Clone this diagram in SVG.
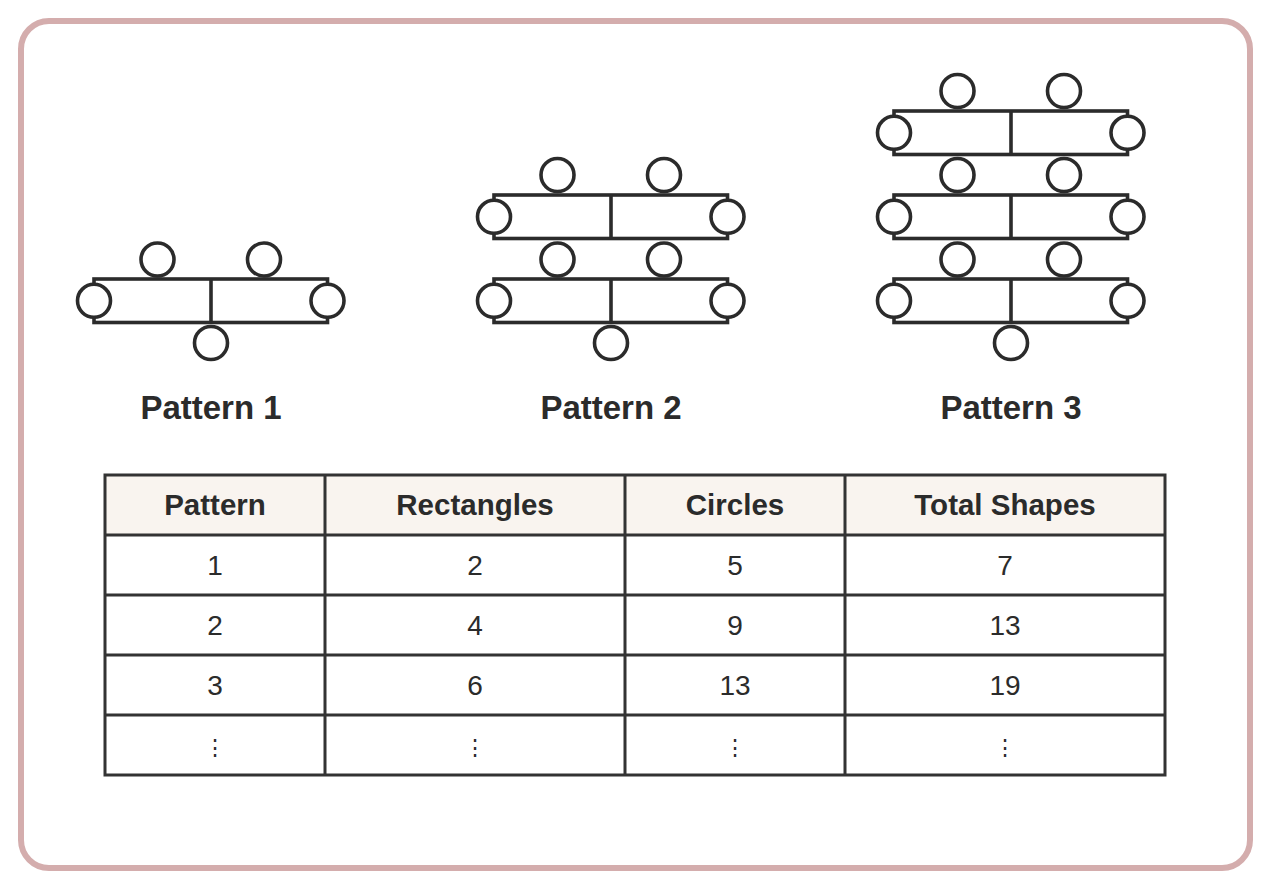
<svg xmlns="http://www.w3.org/2000/svg" width="1270" height="890" viewBox="0 0 1270 890">
<style>
.ln{fill:none;stroke:#2b2b2b;stroke-width:3.6}
.c{fill:#fff;stroke:#2b2b2b;stroke-width:3.6}
.title{font-family:"Liberation Sans",Arial,sans-serif;font-weight:bold;font-size:33px;fill:#2b2b2b;text-anchor:middle}
.th{font-family:"Liberation Sans",Arial,sans-serif;font-weight:bold;font-size:29.5px;fill:#2b2b2b;text-anchor:middle}
.td{font-family:"Liberation Sans",Arial,sans-serif;font-size:28px;fill:#2b2b2b;text-anchor:middle}
.dots{font-family:"Liberation Sans",Arial,sans-serif;font-size:22px;fill:#2b2b2b;text-anchor:middle}
.grid{fill:none;stroke:#333;stroke-width:3}
</style>
<defs>
<g id="row">
<rect class="ln" x="-117" y="0" width="233.5" height="43.5"/>
<line class="ln" x1="0" y1="0" x2="0" y2="43.5"/>
<circle class="c" cx="-117" cy="21.8" r="16.5"/>
<circle class="c" cx="116.5" cy="21.8" r="16.5"/>
</g>
<g id="pair">
<circle class="c" cx="-53.5" cy="0" r="16.5"/>
<circle class="c" cx="53" cy="0" r="16.5"/>
</g>
</defs>
<rect x="21" y="21" width="1229" height="847" rx="28" fill="#fff" stroke="#d4adad" stroke-width="6"/>
<g id="pattern1">
<use href="#pair" x="211" y="259.5"/>
<use href="#row" x="211" y="279"/>
<circle class="c" cx="211" cy="343" r="16.5"/>
<text class="title" x="211" y="419">Pattern 1</text>
</g>
<g id="pattern2">
<use href="#pair" x="611" y="175"/>
<use href="#row" x="611" y="195"/>
<use href="#pair" x="611" y="259.5"/>
<use href="#row" x="611" y="279"/>
<circle class="c" cx="611" cy="343" r="16.5"/>
<text class="title" x="611" y="419">Pattern 2</text>
</g>
<g id="pattern3">
<use href="#pair" x="1011" y="91"/>
<use href="#row" x="1011" y="111"/>
<use href="#pair" x="1011" y="175"/>
<use href="#row" x="1011" y="195"/>
<use href="#pair" x="1011" y="259.5"/>
<use href="#row" x="1011" y="279"/>
<circle class="c" cx="1011" cy="343" r="16.5"/>
<text class="title" x="1011" y="419">Pattern 3</text>
</g>
<g id="table">
<rect x="105" y="475" width="1060" height="60" fill="#f9f4ef"/>
<rect class="grid" x="105" y="475" width="1060" height="300"/>
<g class="grid">
<line x1="105" y1="535" x2="1165" y2="535"/>
<line x1="105" y1="595" x2="1165" y2="595"/>
<line x1="105" y1="655" x2="1165" y2="655"/>
<line x1="105" y1="715" x2="1165" y2="715"/>
<line x1="325" y1="475" x2="325" y2="775"/>
<line x1="625" y1="475" x2="625" y2="775"/>
<line x1="845" y1="475" x2="845" y2="775"/>
</g>
<text class="th" x="215" y="515">Pattern</text>
<text class="th" x="475" y="515">Rectangles</text>
<text class="th" x="735" y="515">Circles</text>
<text class="th" x="1005" y="515">Total Shapes</text>
<text class="td" x="215" y="575">1</text>
<text class="td" x="475" y="575">2</text>
<text class="td" x="735" y="575">5</text>
<text class="td" x="1005" y="575">7</text>
<text class="td" x="215" y="635">2</text>
<text class="td" x="475" y="635">4</text>
<text class="td" x="735" y="635">9</text>
<text class="td" x="1005" y="635">13</text>
<text class="td" x="215" y="695">3</text>
<text class="td" x="475" y="695">6</text>
<text class="td" x="735" y="695">13</text>
<text class="td" x="1005" y="695">19</text>
<text class="dots" x="215" y="755">⋮</text>
<text class="dots" x="475" y="755">⋮</text>
<text class="dots" x="735" y="755">⋮</text>
<text class="dots" x="1005" y="755">⋮</text>
</g>
</svg>
